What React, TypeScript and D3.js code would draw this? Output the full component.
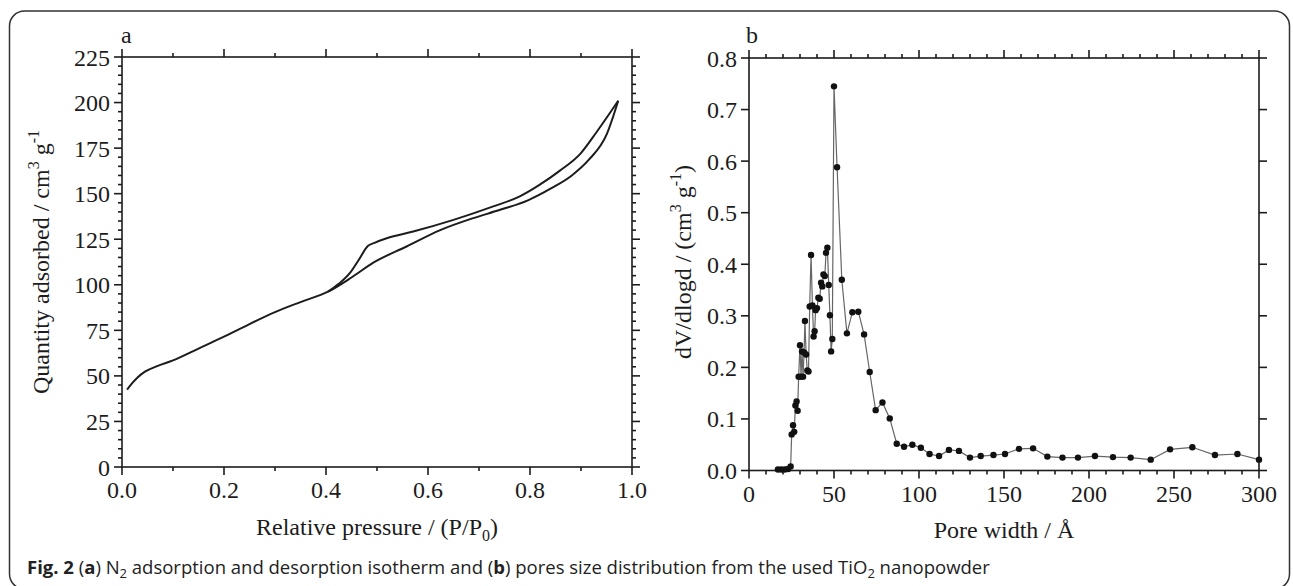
import React from 'react';
import * as d3 from 'd3';

// panel a: N2 isotherm (relative pressure, quantity adsorbed)
const adsP = [0.01, 0.02, 0.03, 0.045, 0.07, 0.1, 0.15, 0.2, 0.231, 0.3, 0.35, 0.404, 0.45, 0.492, 0.558, 0.624, 0.689, 0.74, 0.797, 0.842, 0.882, 0.915, 0.951, 0.973];
const adsQ = [42.5, 46, 49, 52.3, 55.5, 58.5, 65, 71.5, 75.8, 85, 90.5, 96.2, 104, 112, 121, 130, 136.6, 141, 146.5, 153, 160, 168.5, 183, 201];
const desP = [0.404, 0.425, 0.447, 0.465, 0.482, 0.495, 0.519, 0.571, 0.65, 0.728, 0.78, 0.817, 0.858, 0.899, 0.931, 0.973];
const desQ = [96.2, 100.5, 106.5, 114, 121.3, 123, 125.5, 129.2, 135.6, 143, 148.5, 154.5, 162.5, 172, 184, 201];

// panel b: pore size distribution (pore width in Å, dV/dlogd)
const poreW = [17, 19, 21, 23, 24.5, 25.1, 25.9, 26.6, 27.3, 28.0, 28.6, 29.2, 30.0, 30.6, 31.2, 31.8, 32.4, 32.9, 33.6, 34.3, 35.0, 35.7, 36.5, 37.3, 38.0, 38.6, 39.2, 40.0, 40.8, 41.6, 42.4, 43.1, 43.8, 44.6, 45.3, 46.1, 46.9, 47.6, 48.3, 49.0, 50.0, 51.8, 54.6, 57.6, 60.8, 64.3, 67.7, 71, 74.5, 78.5, 82.8, 86.9, 91.2, 96.1, 101.1, 106.2, 111.8, 117.6, 123.5, 130, 136.3, 143.8, 150.6, 158.8, 167.1, 175.5, 184.4, 193.5, 203.5, 214.1, 224.5, 236.3, 247.7, 260.8, 274.1, 287.3, 300];
const poreV = [0.002, 0.002, 0.002, 0.003, 0.008, 0.070, 0.088, 0.075, 0.126, 0.134, 0.116, 0.182, 0.243, 0.182, 0.231, 0.182, 0.229, 0.290, 0.225, 0.194, 0.192, 0.318, 0.418, 0.320, 0.260, 0.270, 0.311, 0.315, 0.335, 0.333, 0.364, 0.357, 0.380, 0.377, 0.422, 0.432, 0.360, 0.301, 0.231, 0.255, 0.745, 0.588, 0.370, 0.266, 0.307, 0.308, 0.264, 0.191, 0.117, 0.132, 0.101, 0.052, 0.046, 0.050, 0.044, 0.032, 0.028, 0.040, 0.038, 0.025, 0.028, 0.030, 0.032, 0.042, 0.043, 0.027, 0.025, 0.025, 0.028, 0.026, 0.025, 0.021, 0.041, 0.045, 0.030, 0.032, 0.021];

const aXTicks = [0, 0.2, 0.4, 0.6, 0.8, 1.0];
const aYTicks = [0, 25, 50, 75, 100, 125, 150, 175, 200, 225];
const bXTicks = [0, 50, 100, 150, 200, 250, 300];
const bYTicks = [0, 0.1, 0.2, 0.3, 0.4, 0.5, 0.6, 0.7, 0.8];

const serif = '"Liberation Serif", "Times New Roman", serif';
const ink = '#1c1c1c';

type FrameProps = {
  x: d3.ScaleLinear<number, number>;
  y: d3.ScaleLinear<number, number>;
  xMajor: number[];
  xMinor: number[];
  yMajor: number[];
  yMinor: number[];
  xFmt: (v: number) => string;
  yFmt: (v: number) => string;
};

const Frame = ({ x, y, xMajor, xMinor, yMajor, yMinor, xFmt, yFmt }: FrameProps) => {
  const [x0, x1] = x.range();
  const [y0, y1] = y.range();
  const big = 8;
  const small = 4;
  return (
    <g stroke={ink} strokeWidth={1.6}>
      <rect x={x0} y={y1} width={x1 - x0} height={y0 - y1} fill="none" />
      {xMajor.map(v => (
        <g key={'xm' + v}>
          <line x1={x(v)} x2={x(v)} y1={y0} y2={y0 + big} />
          <line x1={x(v)} x2={x(v)} y1={y1} y2={y1 - big} />
        </g>
      ))}
      {xMinor.map(v => (
        <g key={'xn' + v}>
          <line x1={x(v)} x2={x(v)} y1={y0} y2={y0 + small} />
          <line x1={x(v)} x2={x(v)} y1={y1} y2={y1 - small} />
        </g>
      ))}
      {yMajor.map(v => (
        <g key={'ym' + v}>
          <line x1={x0} x2={x0 - big} y1={y(v)} y2={y(v)} />
          <line x1={x1} x2={x1 + big} y1={y(v)} y2={y(v)} />
        </g>
      ))}
      {yMinor.map(v => (
        <g key={'yn' + v}>
          <line x1={x0} x2={x0 - small} y1={y(v)} y2={y(v)} />
          <line x1={x1} x2={x1 + small} y1={y(v)} y2={y(v)} />
        </g>
      ))}
      <g stroke="none" fill={ink} fontFamily={serif} fontSize={24}>
        {xMajor.map(v => (
          <text key={'xl' + v} x={x(v)} y={y0 + 31} textAnchor="middle">{xFmt(v)}</text>
        ))}
        {yMajor.map(v => (
          <text key={'yl' + v} x={x0 - 12} y={y(v) + 8.5} textAnchor="end">{yFmt(v)}</text>
        ))}
      </g>
    </g>
  );
};

const App = () => {
  const xA = d3.scaleLinear().domain([0, 1]).range([122, 632]);
  const yA = d3.scaleLinear().domain([0, 225]).range([467, 57]);
  const xB = d3.scaleLinear().domain([0, 300]).range([749, 1259]);
  const yB = d3.scaleLinear().domain([0, 0.8]).range([470.5, 58]);

  const iso = d3.line<[number, number]>()
    .x(d => xA(d[0]))
    .y(d => yA(d[1]))
    .curve(d3.curveMonotoneX);
  const ads = adsP.map((p, i) => [p, adsQ[i]] as [number, number]);
  const des = desP.map((p, i) => [p, desQ[i]] as [number, number]);

  const pores = poreW.map((w, i) => [w, poreV[i]] as [number, number]);
  const psd = d3.line<[number, number]>()
    .x(d => xB(d[0]))
    .y(d => yB(d[1]));

  const aXMinor = d3.range(0.1, 1, 0.2);
  const aYMinor = d3.range(0, 226, 5).filter(v => v % 25 !== 0);
  const bXMinor = d3.range(0, 301, 10).filter(v => v % 50 !== 0);

  return (
    <div>
      <style>{'body{margin:0;background:#fff}'}</style>
      <svg width={1293} height={586} style={{ display: 'block' }}>
        <rect x={9.5} y={11} width={1280} height={578} rx={15} fill="none" stroke="#333" strokeWidth={1.5} />

        {/* panel a */}
        <Frame x={xA} y={yA} xMajor={aXTicks} xMinor={aXMinor} yMajor={aYTicks} yMinor={aYMinor}
          xFmt={d3.format('.1f')} yFmt={d3.format('d')} />
        <path d={iso(ads) || ''} fill="none" stroke={ink} strokeWidth={2} />
        <path d={iso(des) || ''} fill="none" stroke={ink} strokeWidth={2} />
        <g fill={ink} fontFamily={serif} fontSize={24}>
          <text x={121} y={43}>a</text>
          <text x={377} y={535} textAnchor="middle">
            Relative pressure / (P/P<tspan fontSize={16} dy={6}>0</tspan><tspan dy={-6}>)</tspan>
          </text>
          <text transform="translate(49,262) rotate(-90)" textAnchor="middle">
            Quantity adsorbed / cm<tspan fontSize={16} dy={-10}>3</tspan><tspan dy={10}> g</tspan><tspan fontSize={16} dy={-10}>-1</tspan>
          </text>
        </g>

        {/* panel b */}
        <Frame x={xB} y={yB} xMajor={bXTicks} xMinor={bXMinor} yMajor={bYTicks} yMinor={[]}
          xFmt={d3.format('d')} yFmt={d3.format('.1f')} />
        <path d={psd(pores) || ''} fill="none" stroke="#666" strokeWidth={1.2} />
        {pores.map((d, i) => (
          <circle key={i} cx={xB(d[0])} cy={yB(d[1])} r={3.2} fill="#111" />
        ))}
        <g fill={ink} fontFamily={serif} fontSize={24}>
          <text x={746} y={43}>b</text>
          <text x={1004} y={538} textAnchor="middle">Pore width / Å</text>
          <text transform="translate(691,262) rotate(-90)" textAnchor="middle">
            dV/dlogd / (cm<tspan fontSize={16} dy={-10}>3</tspan><tspan dy={10}> g</tspan><tspan fontSize={16} dy={-10}>-1</tspan><tspan dy={10}>)</tspan>
          </text>
        </g>

        {/* caption */}
        <text x={27} y={574} fontFamily='"Open Sans", sans-serif' fontSize={18.5} fill="#222">
          <tspan fontWeight="bold">Fig. 2</tspan> (<tspan fontWeight="bold">a</tspan>) N<tspan fontSize={13} dy={4}>2</tspan><tspan dy={-4}> adsorption and desorption isotherm and (</tspan><tspan fontWeight="bold">b</tspan>) pores size distribution from the used TiO<tspan fontSize={13} dy={4}>2</tspan><tspan dy={-4}> nanopowder</tspan>
        </text>
      </svg>
    </div>
  );
};

export default App;
